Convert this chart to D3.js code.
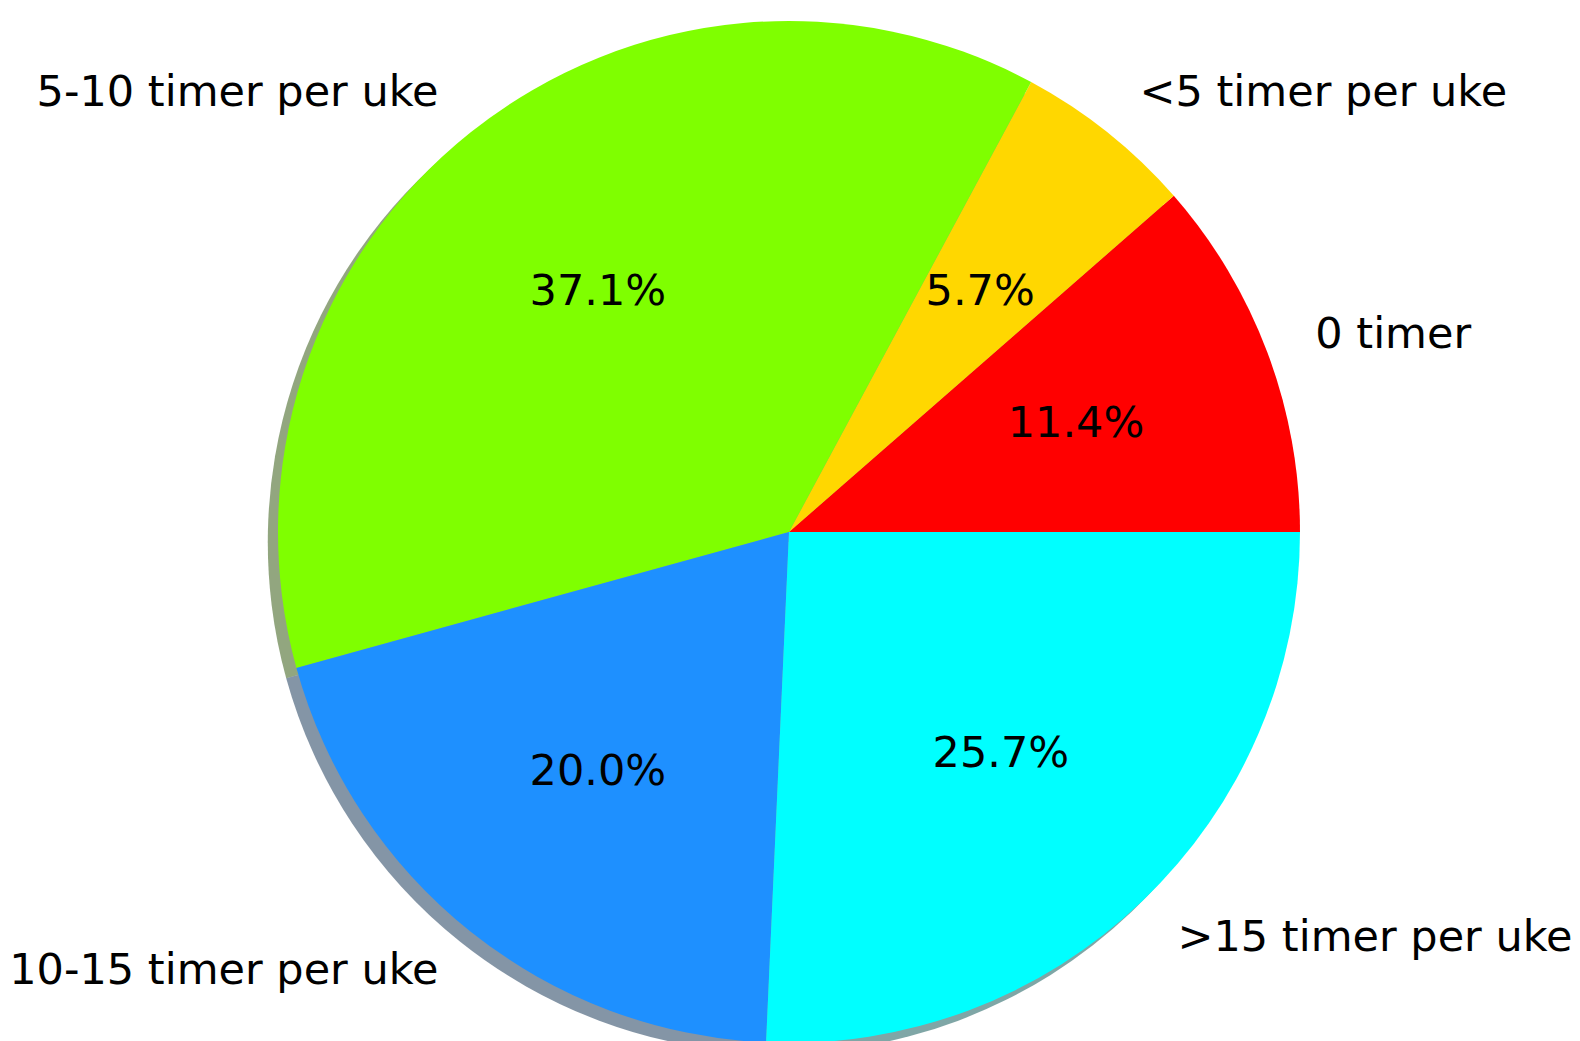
<!DOCTYPE html>
<html>
<head>
<meta charset="utf-8">
<script src="https://cdn.jsdelivr.net/npm/d3@7"></script>
<style>
  html, body { margin: 0; padding: 0; background: #fff; }
  svg { display: block; }
  text { font-family: "DejaVu Sans", sans-serif; fill: #000; }
</style>
</head>
<body>
<svg id="chart" width="1580" height="1041"></svg>
<script>
const categories = ["0 timer", "<5 timer per uke", "5-10 timer per uke", "10-15 timer per uke", ">15 timer per uke"];
const counts = [4, 2, 13, 7, 9];
const colors = ["#ff0000", "#ffd700", "#7fff00", "#1e90ff", "#00ffff"];

const W = 1580, H = 1041;
const cx = 789, cy = 532, R = 511;
const fontSize = 43;
const textDy = -2;

const svg = d3.select("#chart");
const data = categories.map((c, i) => ({ label: c, value: counts[i], color: colors[i] }));
const total = d3.sum(counts);

// counterclockwise from 3 o'clock (d3 angles measured clockwise from 12 o'clock)
const pie = d3.pie().value(d => d.value).sort(null)
  .startAngle(Math.PI / 2).endAngle(Math.PI / 2 - 2 * Math.PI);
const arcs = pie(data);
const arc = d3.arc().innerRadius(0).outerRadius(R);

const off = 0.02 * R;
// shadows
const shadowG = svg.append("g").attr("transform", `translate(${cx - off},${cy + off})`);
shadowG.selectAll("path").data(arcs).enter().append("path")
  .attr("d", arc)
  .attr("fill", d => {
    const c = d3.rgb(d.data.color);
    return d3.rgb(c.r * 0.3, c.g * 0.3, c.b * 0.3);
  })
  .attr("fill-opacity", 0.5);

const g = svg.append("g").attr("transform", `translate(${cx},${cy})`);
g.selectAll("path.w").data(arcs).enter().append("path")
  .attr("class", "w")
  .attr("d", arc)
  .attr("fill", d => d.data.color);

function mathAngle(d) {
  const mid = (d.startAngle + d.endAngle) / 2; // d3 angle
  return Math.PI / 2 - mid;
}

// percent labels
g.selectAll("text.pct").data(arcs).enter().append("text")
  .attr("class", "pct")
  .attr("x", d => 0.6 * R * Math.cos(mathAngle(d)))
  .attr("y", d => -0.6 * R * Math.sin(mathAngle(d)) + textDy)
  .attr("text-anchor", "middle")
  .attr("dominant-baseline", "central")
  .attr("font-size", fontSize)
  .text(d => d3.format(".1f")(d.value / total * 100) + "%");

// category labels
g.selectAll("text.lab").data(arcs).enter().append("text")
  .attr("class", "lab")
  .attr("x", d => 1.1 * R * Math.cos(mathAngle(d)))
  .attr("y", d => -1.1 * R * Math.sin(mathAngle(d)) + textDy)
  .attr("text-anchor", d => Math.cos(mathAngle(d)) > 0 ? "start" : "end")
  .attr("dominant-baseline", "central")
  .attr("font-size", fontSize)
  .text(d => d.data.label);
</script>
</body>
</html>
